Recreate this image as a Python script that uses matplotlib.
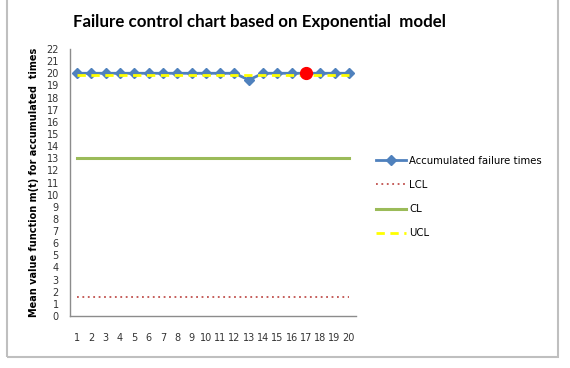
import matplotlib
matplotlib.use("Agg")
import matplotlib.pyplot as plt
from matplotlib.patches import Rectangle

# values
samples = list(range(1, 21))
accumulated = [20, 20, 20, 20, 20, 20, 20, 20, 20, 20, 20, 20, 19.45, 20, 20, 20, 20, 20, 20, 20]
lcl = [1.55] * 20
cl = [13.0] * 20
ucl = [19.85] * 20
flagged = [17]

fig = plt.figure(figsize=(5.7, 3.68), dpi=100)
fig.patches.append(Rectangle((7 / 570, 11 / 368), 551 / 570, 370 / 368,
                             transform=fig.transFigure, fill=False,
                             edgecolor="#BFBFBF", lw=1.5))

ax = fig.add_axes([70 / 570, 52 / 368, 286 / 570, 267 / 368])

ax.plot(samples, accumulated, color="#4F81BD", lw=2, marker="D", ms=5,
        label="Accumulated failure times", zorder=3)
ax.plot(samples, lcl, color="#C0504D", lw=1.3, ls=(0, (1, 2)), label="LCL", zorder=2)
ax.plot(samples, cl, color="#9BBB59", lw=2.2, label="CL", zorder=2)
ax.plot(samples, ucl, color="#FFFF00", lw=2, ls=(0, (3, 2)), label="UCL", zorder=4)
for s in flagged:
    ax.plot([s], [accumulated[s - 1]], "o", color="#FF0000", ms=8.5, zorder=5)

ax.set_xlim(0.5, 20.5)
ax.set_ylim(0, 22)
ax.set_xticks(samples)
ax.set_yticks(range(0, 23))
ax.tick_params(axis="both", length=0, labelsize=7, colors="#333333")
ax.tick_params(axis="x", pad=12)
ax.tick_params(axis="y", pad=8)
for side in ("top", "right"):
    ax.spines[side].set_visible(False)
for side in ("left", "bottom"):
    ax.spines[side].set_color("#8C8C8C")
    ax.spines[side].set_linewidth(1)

ax.set_ylabel("Mean value function m(t) for accumulated  times", fontsize=7,
              fontweight="bold", labelpad=5)
fig.text(0.455, 0.94, "Failure control chart based on Exponential  model",
         ha="center", va="center", fontsize=12.2, fontweight="bold",
         family="Lato")

ax.legend(loc="upper left", bbox_to_anchor=(1.055, 0.615), frameon=False,
          fontsize=7.3, handlelength=3, handletextpad=0.3, labelspacing=1.4,
          borderaxespad=0)

fig.savefig("out.png", dpi=100)
